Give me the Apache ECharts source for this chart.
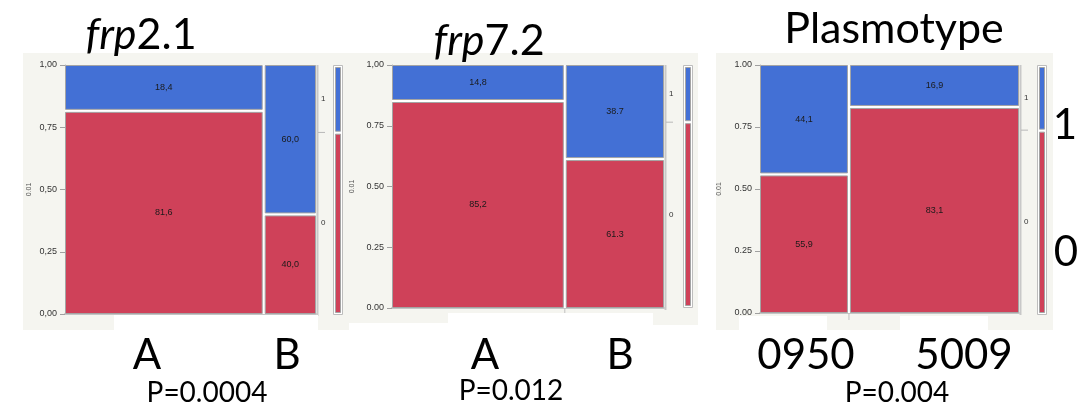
<!DOCTYPE html>
<html><head><meta charset="utf-8">
<script src="https://cdn.jsdelivr.net/npm/echarts@6/dist/echarts.min.js"></script>
<style>html,body{margin:0;padding:0;background:#fff}#c{width:1079px;height:409px}</style>
</head><body><div id="c"></div>
<script>
// ---------------- DATA ----------------
// panel 1: frp2.1
const CAT1 = ['A', 'B'];
const ONE1 = [7, 6];          // outcome "1" counts (blue)
const ZERO1 = [31, 4];        // outcome "0" counts (red)
const PCT1_ONE = ['18,4', '60,0'];
const PCT1_ZERO = ['81,6', '40,0'];
const TICKS1 = ['0,00', '0,25', '0,50', '0,75', '1,00'];
// panel 2: frp7.2
const CAT2 = ['A', 'B'];
const ONE2 = [8, 12];
const ZERO2 = [46, 19];
const PCT2_ONE = ['14,8', '38.7'];
const PCT2_ZERO = ['85,2', '61.3'];
const TICKS2 = ['0.00', '0.25', '0.50', '0.75', '1,00'];
// panel 3: Plasmotype
const CAT3 = ['0950', '5009'];
const ONE3 = [15, 11];
const ZERO3 = [19, 54];
const PCT3_ONE = ['44,1', '16,9'];
const PCT3_ZERO = ['55,9', '83,1'];
const TICKS3 = ['0.00', '0.25', '0.50', '0.75', '1.00'];

const TITLE_ITALIC = ['frp', 'frp', ''];
const TITLE_REST = ['2.1', '7.2', 'Plasmotype'];
const PVALUES = ['P=0.0004', 'P=0.012', 'P=0.004'];
const OUTCOMES = ['0', '1'];
const AXIS_NAME = '0.01';

// ---------------- STYLE / LAYOUT ----------------
const BLUE = '#4370d5', RED = '#cf4159', BG = '#f5f5f0', EDGE = '#a4a4a4';
const SMALL = '"Liberation Sans", Arial, sans-serif';
const BIG = 'Lato, "Open Sans", sans-serif';

const panels = [
  {cat: CAT1, one: ONE1, zero: ZERO1, p1: PCT1_ONE, p0: PCT1_ZERO, ticks: TICKS1,
   grid: {left: 65, top: 65, width: 251, height: 249}, leg: {left: 333, top: 65, width: 10, height: 250},
   nameGap: 31, btmTick: false},
  {cat: CAT2, one: ONE2, zero: ZERO2, p1: PCT2_ONE, p0: PCT2_ZERO, ticks: TICKS2,
   grid: {left: 392, top: 65, width: 272, height: 243}, leg: {left: 683, top: 65, width: 10, height: 243},
   nameGap: 35, btmTick: true},
  {cat: CAT3, one: ONE3, zero: ZERO3, p1: PCT3_ONE, p0: PCT3_ZERO, ticks: TICKS3,
   grid: {left: 760, top: 65, width: 259, height: 248}, leg: {left: 1037, top: 65, width: 10, height: 250},
   nameGap: 36, btmTick: true}
];

const grids = [], xAxes = [], yAxes = [], series = [];

panels.forEach((P, pi) => {
  const total = P.one.reduce((a, b) => a + b, 0) + P.zero.reduce((a, b) => a + b, 0);
  const zeroTot = P.zero.reduce((a, b) => a + b, 0);
  const f0 = zeroTot / total;
  const cells = [], labels = [];
  let x = 0;
  const bounds = [];
  P.cat.forEach((c, i) => {
    const n = P.one[i] + P.zero[i];
    const w = n / total, pz = P.zero[i] / n;
    cells.push([x, x + w, 0, pz, 0]); labels.push(P.p0[i]);
    cells.push([x, x + w, pz, 1, 1]); labels.push(P.p1[i]);
    x += w;
    if (i < P.cat.length - 1) bounds.push(x);
  });

  const gi = grids.length;
  grids.push(Object.assign({containLabel: false}, P.grid));
  grids.push(Object.assign({containLabel: false}, P.leg));

  xAxes.push({gridIndex: gi, type: 'value', min: 0, max: 1, offset: 1,
    axisLine: {show: true, lineStyle: {color: '#c4c4c4', width: 2}},
    axisTick: {show: false}, axisLabel: {show: false}, splitLine: {show: false}});
  xAxes.push({gridIndex: gi + 1, type: 'value', min: 0, max: 1, show: false});

  yAxes.push({gridIndex: gi, type: 'value', min: 0, max: 1, interval: 0.25, offset: 1,
    name: AXIS_NAME, nameLocation: 'middle', nameRotate: 90, nameGap: P.nameGap,
    nameTextStyle: {fontSize: 7, color: '#555', fontFamily: SMALL},
    axisLine: {show: true, lineStyle: {color: '#b0b0b0', width: 1}},
    axisTick: {show: true, length: 5, lineStyle: {color: '#a0a0a0'}},
    axisLabel: {show: true, margin: 7, fontSize: 9, color: '#333', fontFamily: SMALL,
      formatter: v => P.ticks[Math.round(v * 4)]},
    splitLine: {show: false}});
  yAxes.push({gridIndex: gi + 1, type: 'value', min: 0, max: 1, show: false});

  // mosaic cells
  series.push({
    type: 'custom', xAxisIndex: gi, yAxisIndex: gi, clip: false, data: cells,
    renderItem: (params, api) => {
      const x0 = api.value(0), x1 = api.value(1), y0 = api.value(2), y1 = api.value(3), ci = api.value(4);
      const a = api.coord([x0, y1]), b = api.coord([x1, y0]);
      let L = a[0], T = a[1], R = b[0], B = b[1];
      const g = 1;
      if (x0 > 1e-6) L += g; if (x1 < 1 - 1e-6) R -= g;
      if (y0 > 1e-6) B -= g; if (y1 < 1 - 1e-6) T += g;
      const children = [];
      if (params.dataIndex === 0) {
        const tl = api.coord([0, 1]), br = api.coord([1, 0]);
        children.push({type: 'rect', shape: {x: tl[0], y: tl[1], width: br[0] - tl[0], height: br[1] - tl[1]},
          style: {fill: '#fff'}});
        // right axis line
        children.push({type: 'line', shape: {x1: br[0] + 1.5, y1: tl[1], x2: br[0] + 1.5, y2: br[1] + 2},
          style: {stroke: '#c8c8c8', lineWidth: 2}});
        const yb = api.coord([1, f0])[1];
        children.push({type: 'line', shape: {x1: br[0] + 2, y1: yb, x2: br[0] + 9, y2: yb},
          style: {stroke: '#b8b8b8', lineWidth: 1}});
        const y1m = api.coord([1, (1 + f0) / 2])[1], y0m = api.coord([1, f0 / 2])[1];
        children.push({type: 'text', style: {text: OUTCOMES[1], x: br[0] + 5, y: y1m, align: 'left',
          verticalAlign: 'middle', font: '8px ' + SMALL, fill: '#333'}});
        children.push({type: 'text', style: {text: OUTCOMES[0], x: br[0] + 5, y: y0m, align: 'left',
          verticalAlign: 'middle', font: '8px ' + SMALL, fill: '#333'}});
        if (P.btmTick) {
          bounds.forEach(bx => {
            const p = api.coord([bx, 0]);
            children.push({type: 'line', shape: {x1: p[0], y1: p[1], x2: p[0], y2: p[1] + 7},
              style: {stroke: '#c0c0c0', lineWidth: 1}});
          });
        }
      }
      children.push({type: 'rect', shape: {x: L + 0.5, y: T + 0.5, width: R - L - 1, height: B - T - 1},
        style: {fill: ci === 1 ? BLUE : RED, stroke: EDGE, lineWidth: 1}});
      children.push({type: 'text', style: {text: labels[params.dataIndex], x: (L + R) / 2, y: (T + B) / 2,
        align: 'center', verticalAlign: 'middle', font: '9px ' + SMALL, fill: '#1a1a1a'}});
      return {type: 'group', children};
    }
  });

  // legend bar (overall proportions)
  series.push({
    type: 'custom', xAxisIndex: gi + 1, yAxisIndex: gi + 1, clip: false,
    data: [[0, f0, 0], [f0, 1, 1]],
    renderItem: (params, api) => {
      const y0 = api.value(0), y1 = api.value(1), ci = api.value(2);
      const a = api.coord([0, y1]), b = api.coord([1, y0]);
      let L = a[0] + 2, R = b[0] - 2, T = a[1], B = b[1];
      if (y0 > 1e-6) B -= 1; else B -= 2;
      if (y1 < 1 - 1e-6) T += 1; else T += 2;
      const children = [];
      if (params.dataIndex === 0) {
        const tl = api.coord([0, 1]), br = api.coord([1, 0]);
        children.push({type: 'rect', shape: {x: tl[0] + 0.5, y: tl[1] + 0.5, width: br[0] - tl[0] - 1, height: br[1] - tl[1] - 1},
          style: {fill: '#fff', stroke: '#bdbdbd', lineWidth: 1}});
      }
      children.push({type: 'rect', shape: {x: L + 0.5, y: T + 0.5, width: R - L - 1, height: B - T - 1},
        style: {fill: ci === 1 ? BLUE : RED, stroke: EDGE, lineWidth: 1}});
      return {type: 'group', children};
    }
  });
});

// ---------------- GRAPHIC (background, labels) ----------------
const graphics = [];
const bgRects = [[23, 53, 326, 277], [329, 53, 369, 272], [716, 53, 337, 277]];
bgRects.forEach(r => graphics.push({type: 'rect', z: -10, shape: {x: r[0], y: r[1], width: r[2], height: r[3]}, style: {fill: BG}}));
const cutouts = [[114, 315, 204, 30], [349, 323, 100, 20], [448, 313, 205, 30], [653, 325, 60, 20],
                 [739, 316, 88, 30], [900, 316, 88, 30]];
cutouts.forEach(r => graphics.push({type: 'rect', z: 100, shape: {x: r[0], y: r[1], width: r[2], height: r[3]}, style: {fill: '#fff'}}));

const titlePos = [[141, 35], [489, 41], [894, 29]];
TITLE_REST.forEach((t, i) => {
  graphics.push({type: 'text', z: 110, style: {
    text: (TITLE_ITALIC[i] ? '{i|' + TITLE_ITALIC[i] + '}' : '') + '{n|' + t + '}',
    x: titlePos[i][0], y: titlePos[i][1], align: 'center', verticalAlign: 'middle',
    rich: {i: {fontStyle: 'italic', fontSize: 43, fontFamily: BIG, fill: '#000'},
           n: {fontSize: 43, fontFamily: BIG, fill: '#000'}}}});
});
const catPos = [[[147, 355], [287, 355]], [[485, 355], [620, 355]], [[806, 355], [964, 355]]];
panels.forEach((P, pi) => {
  P.cat.forEach((c, i) => graphics.push({type: 'text', z: 110, style: {text: c, x: catPos[pi][i][0], y: catPos[pi][i][1],
    align: 'center', verticalAlign: 'middle', font: '42px ' + BIG, fill: '#000'}}));
});
const pPos = [[207, 393], [511, 391], [897, 393]];
PVALUES.forEach((t, i) => graphics.push({type: 'text', z: 110, style: {text: t, x: pPos[i][0], y: pPos[i][1],
  align: 'center', verticalAlign: 'middle', font: '28px ' + BIG, fill: '#000'}}));
graphics.push({type: 'text', z: 110, style: {text: OUTCOMES[1], x: 1065, y: 125, align: 'center', verticalAlign: 'middle', font: '42px ' + BIG, fill: '#000'}});
graphics.push({type: 'text', z: 110, style: {text: OUTCOMES[0], x: 1066, y: 252, align: 'center', verticalAlign: 'middle', font: '42px ' + BIG, fill: '#000'}});

const chart = echarts.init(document.getElementById('c'), null, {renderer: 'canvas'});
chart.setOption({
  backgroundColor: '#fff', animation: false,
  grid: grids, xAxis: xAxes, yAxis: yAxes, series, graphic: {elements: graphics}
});
</script></body></html>
